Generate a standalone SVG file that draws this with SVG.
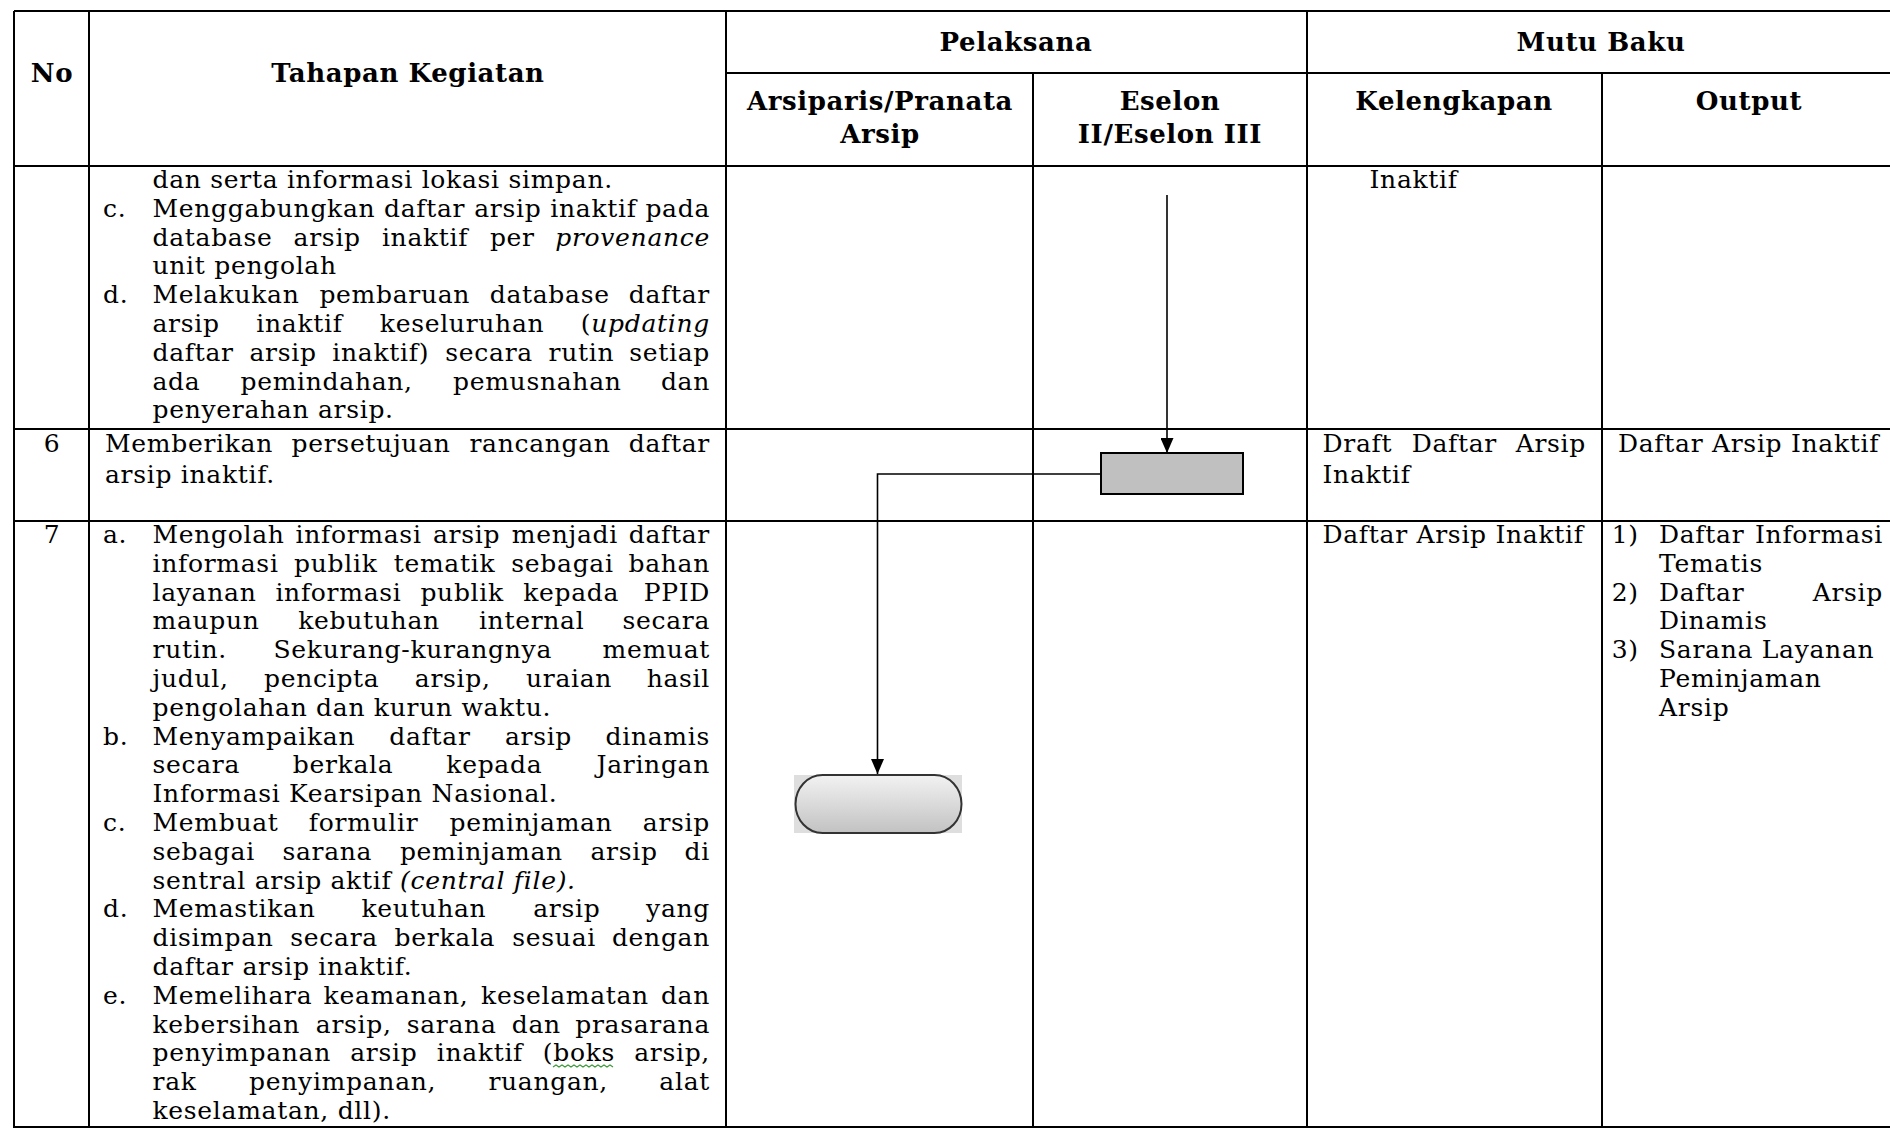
<svg xmlns="http://www.w3.org/2000/svg" width="1890" height="1128" viewBox="0 0 1890 1128">
  <style>
    .t{font-family:'DejaVu Serif','Liberation Serif',serif;font-size:25px;letter-spacing:0.7px;fill:#000}
    .h{font-weight:bold;font-size:26px;letter-spacing:0.6px;text-anchor:middle}
    .c{text-anchor:middle}
    .e{text-anchor:end}
    .i{font-style:italic}
    .grid line{stroke:#000;stroke-width:2}
    .flow{stroke:#000;stroke-width:1.6;fill:none}
  </style>
  <defs>
    <marker id="arrow" markerUnits="userSpaceOnUse" markerWidth="15" markerHeight="13" viewBox="0 0 15 13" refX="15" refY="6.5" orient="auto">
      <path d="M0,0 L15,6.5 L0,13 z" fill="#000"/>
    </marker>
    <linearGradient id="termFill" x1="0" y1="0" x2="0" y2="1">
      <stop offset="0" stop-color="#f2f2f2"/>
      <stop offset="1" stop-color="#c2c2c2"/>
    </linearGradient>
  </defs>

  <rect width="1890" height="1128" fill="#fff"/>

  <!-- table grid -->
  <g id="grid" class="grid">
    <line x1="14" y1="11" x2="1890" y2="11"/>
    <line x1="726" y1="73" x2="1890" y2="73"/>
    <line x1="14" y1="166" x2="1890" y2="166"/>
    <line x1="14" y1="429" x2="1890" y2="429"/>
    <line x1="14" y1="521" x2="1890" y2="521"/>
    <line x1="14" y1="1127" x2="1890" y2="1127"/>
    <line x1="14" y1="11" x2="14" y2="1128"/>
    <line x1="89" y1="11" x2="89" y2="1128"/>
    <line x1="726" y1="11" x2="726" y2="1128"/>
    <line x1="1033" y1="73" x2="1033" y2="1128"/>
    <line x1="1307" y1="11" x2="1307" y2="1128"/>
    <line x1="1602" y1="73" x2="1602" y2="1128"/>
  </g>

  <!-- column headings -->
  <g id="header" class="t h">
    <text x="52" y="82">No</text>
    <text x="408" y="82">Tahapan Kegiatan</text>
    <text x="1016" y="51">Pelaksana</text>
    <text x="1601" y="51">Mutu Baku</text>
    <text x="880" y="110">Arsiparis/Pranata</text>
    <text x="880" y="143">Arsip</text>
    <text x="1170" y="110">Eselon</text>
    <text x="1170" y="143">II/Eselon III</text>
    <text x="1454" y="110">Kelengkapan</text>
    <text x="1749" y="110">Output</text>
  </g>

  <!-- row 5 (continued) -->
  <g id="row-5" class="t">
    <text x="152.5" y="188">dan serta informasi lokasi simpan.</text>
    <text x="103" y="216.8">c.</text>
    <text y="216.8"><tspan x="152.5">Menggabungkan</tspan><tspan x="384">daftar</tspan><tspan x="474.2">arsip</tspan><tspan x="550.3">inaktif</tspan></text>
    <text class="e" x="710" y="216.8">pada</text>
    <text y="245.6"><tspan x="152.5">database</tspan><tspan x="293.6">arsip</tspan><tspan x="381.9">inaktif</tspan><tspan x="489.9">per</tspan></text>
    <text class="e i" x="710" y="245.6">provenance</text>
    <text x="152.5" y="274.4">unit pengolah</text>
    <text x="103" y="303.2">d.</text>
    <text y="303.2"><tspan x="152.5">Melakukan</tspan><tspan x="319.4">pembaruan</tspan><tspan x="489.7">database</tspan></text>
    <text class="e" x="710" y="303.2">daftar</text>
    <text y="332"><tspan x="152.5">arsip</tspan><tspan x="256.3">inaktif</tspan><tspan x="379.8">keseluruhan</tspan></text>
    <text class="e" x="710" y="332">(<tspan class="i">updating</tspan></text>
    <text y="360.8"><tspan x="152.5">daftar</tspan><tspan x="249.5">arsip</tspan><tspan x="332.3">inaktif)</tspan><tspan x="445.3">secara</tspan><tspan x="548.6">rutin</tspan></text>
    <text class="e" x="710" y="360.8">setiap</text>
    <text y="389.6"><tspan x="152.5">ada</tspan><tspan x="240.5">pemindahan,</tspan><tspan x="453">pemusnahan</tspan></text>
    <text class="e" x="710" y="389.6">dan</text>
    <text x="152.5" y="418.4">penyerahan arsip.</text>
    <text x="1369.5" y="188">Inaktif</text>
  </g>

  <!-- row 6 -->
  <g id="row-6" class="t">
    <text class="c" x="52" y="451.5">6</text>
    <text y="451.5"><tspan x="105">Memberikan</tspan><tspan x="291.5">persetujuan</tspan><tspan x="469.4">rancangan</tspan></text>
    <text class="e" x="710" y="451.5">daftar</text>
    <text x="105" y="483">arsip inaktif.</text>
    <text y="451.5"><tspan x="1322.5">Draft</tspan><tspan x="1411.7">Daftar</tspan></text>
    <text class="e" x="1586" y="451.5">Arsip</text>
    <text x="1322.5" y="483">Inaktif</text>
    <text x="1618" y="451.5">Daftar Arsip Inaktif</text>
  </g>

  <!-- row 7 -->
  <g id="row-7" class="t">
    <text class="c" x="52" y="543">7</text>
    <text x="103" y="543">a.</text>
    <text y="543"><tspan x="152.5">Mengolah</tspan><tspan x="295.5">informasi</tspan><tspan x="433">arsip</tspan><tspan x="511.8">menjadi</tspan></text>
    <text class="e" x="710" y="543">daftar</text>
    <text y="571.8"><tspan x="152.5">informasi</tspan><tspan x="294.1">publik</tspan><tspan x="393.7">tematik</tspan><tspan x="511.3">sebagai</tspan></text>
    <text class="e" x="710" y="571.8">bahan</text>
    <text y="600.6"><tspan x="152.5">layanan</tspan><tspan x="275.4">informasi</tspan><tspan x="420.4">publik</tspan><tspan x="523.2">kepada</tspan></text>
    <text class="e" x="710" y="600.6">PPID</text>
    <text y="629.4"><tspan x="152.5">maupun</tspan><tspan x="298.2">kebutuhan</tspan><tspan x="478.9">internal</tspan></text>
    <text class="e" x="710" y="629.4">secara</text>
    <text y="658.2"><tspan x="152.5">rutin.</tspan><tspan x="273.5">Sekurang-kurangnya</tspan></text>
    <text class="e" x="710" y="658.2">memuat</text>
    <text y="687"><tspan x="152.5">judul,</tspan><tspan x="264">pencipta</tspan><tspan x="414.8">arsip,</tspan><tspan x="526">uraian</tspan></text>
    <text class="e" x="710" y="687">hasil</text>
    <text x="152.5" y="715.8">pengolahan dan kurun waktu.</text>
    <text x="103" y="744.6">b.</text>
    <text y="744.6"><tspan x="152.5">Menyampaikan</tspan><tspan x="389.3">daftar</tspan><tspan x="504.9">arsip</tspan></text>
    <text class="e" x="710" y="744.6">dinamis</text>
    <text y="773.4"><tspan x="152.5">secara</tspan><tspan x="292.7">berkala</tspan><tspan x="446.3">kepada</tspan></text>
    <text class="e" x="710" y="773.4">Jaringan</text>
    <text x="152.5" y="802.2">Informasi Kearsipan Nasional.</text>
    <text x="103" y="831">c.</text>
    <text y="831"><tspan x="152.5">Membuat</tspan><tspan x="308.8">formulir</tspan><tspan x="449.5">peminjaman</tspan></text>
    <text class="e" x="710" y="831">arsip</text>
    <text y="859.8"><tspan x="152.5">sebagai</tspan><tspan x="282.4">sarana</tspan><tspan x="399.9">peminjaman</tspan><tspan x="590.5">arsip</tspan></text>
    <text class="e" x="710" y="859.8">di</text>
    <text x="152.5" y="888.6">sentral arsip aktif <tspan class="i">(central file).</tspan></text>
    <text x="103" y="917.4">d.</text>
    <text y="917.4"><tspan x="152.5">Memastikan</tspan><tspan x="361.5">keutuhan</tspan><tspan x="533.2">arsip</tspan></text>
    <text class="e" x="710" y="917.4">yang</text>
    <text y="946.2"><tspan x="152.5">disimpan</tspan><tspan x="290.3">secara</tspan><tspan x="394.6">berkala</tspan><tspan x="512.3">sesuai</tspan></text>
    <text class="e" x="710" y="946.2">dengan</text>
    <text x="152.5" y="975">daftar arsip inaktif.</text>
    <text x="103" y="1003.8">e.</text>
    <text y="1003.8"><tspan x="152.5">Memelihara</tspan><tspan x="323.6">keamanan,</tspan><tspan x="481.1">keselamatan</tspan></text>
    <text class="e" x="710" y="1003.8">dan</text>
    <text y="1032.6"><tspan x="152.5">kebersihan</tspan><tspan x="315.8">arsip,</tspan><tspan x="406.7">sarana</tspan><tspan x="511.7">dan</tspan></text>
    <text class="e" x="710" y="1032.6">prasarana</text>
    <text y="1061.4"><tspan x="152.5">penyimpanan</tspan><tspan x="350.2">arsip</tspan><tspan x="436.7">inaktif</tspan><tspan x="542.8">(boks</tspan></text>
    <text class="e" x="710" y="1061.4">arsip,</text>
    <text y="1090.2"><tspan x="152.5">rak</tspan><tspan x="249.1">penyimpanan,</tspan><tspan x="488.4">ruangan,</tspan></text>
    <text class="e" x="710" y="1090.2">alat</text>
    <text x="152.5" y="1119">keselamatan, dll).</text>

    <text x="1322.5" y="543">Daftar Arsip Inaktif</text>

    <text x="1611.7" y="543">1)</text>
    <text x="1659" y="543">Daftar</text>
    <text class="e" x="1883" y="543">Informasi</text>
    <text x="1659" y="571.8">Tematis</text>
    <text x="1611.7" y="600.6">2)</text>
    <text x="1659" y="600.6">Daftar</text>
    <text class="e" x="1883" y="600.6">Arsip</text>
    <text x="1659" y="629.4">Dinamis</text>
    <text x="1611.7" y="658.2">3)</text>
    <text x="1659" y="658.2">Sarana Layanan</text>
    <text x="1659" y="687">Peminjaman</text>
    <text x="1659" y="715.8">Arsip</text>
  </g>

  <!-- spell-check squiggle under "boks" -->
  <path d="M553,1067 l3,-2 l3,2 l3,-2 l3,2 l3,-2 l3,2 l3,-2 l3,2 l3,-2 l3,2 l3,-2 l3,2 l3,-2 l3,2 l3,-2 l3,2 l3,-2 l3,2 l3,-2 l3,2" fill="none" stroke="#3a9a3a" stroke-width="1.2"/>

  <!-- flow connectors -->
  <g id="connectors">
    <line class="flow" x1="1167" y1="195" x2="1167" y2="453" marker-end="url(#arrow)"/>
    <path class="flow" d="M1101,474 H877.5 V774" marker-end="url(#arrow)"/>
  </g>

  <!-- process box: approval by Eselon II/III -->
  <g id="node-approve">
    <rect x="1101" y="453" width="142" height="41" fill="#c0c0c0" stroke="#000" stroke-width="2"/>
  </g>

  <!-- terminator: end of process -->
  <g id="node-end">
    <rect x="794" y="775" width="168" height="58" fill="#dedede"/>
    <rect x="795.5" y="775" width="166" height="58" rx="27" ry="29" fill="url(#termFill)" stroke="#333" stroke-width="2"/>
  </g>
</svg>
